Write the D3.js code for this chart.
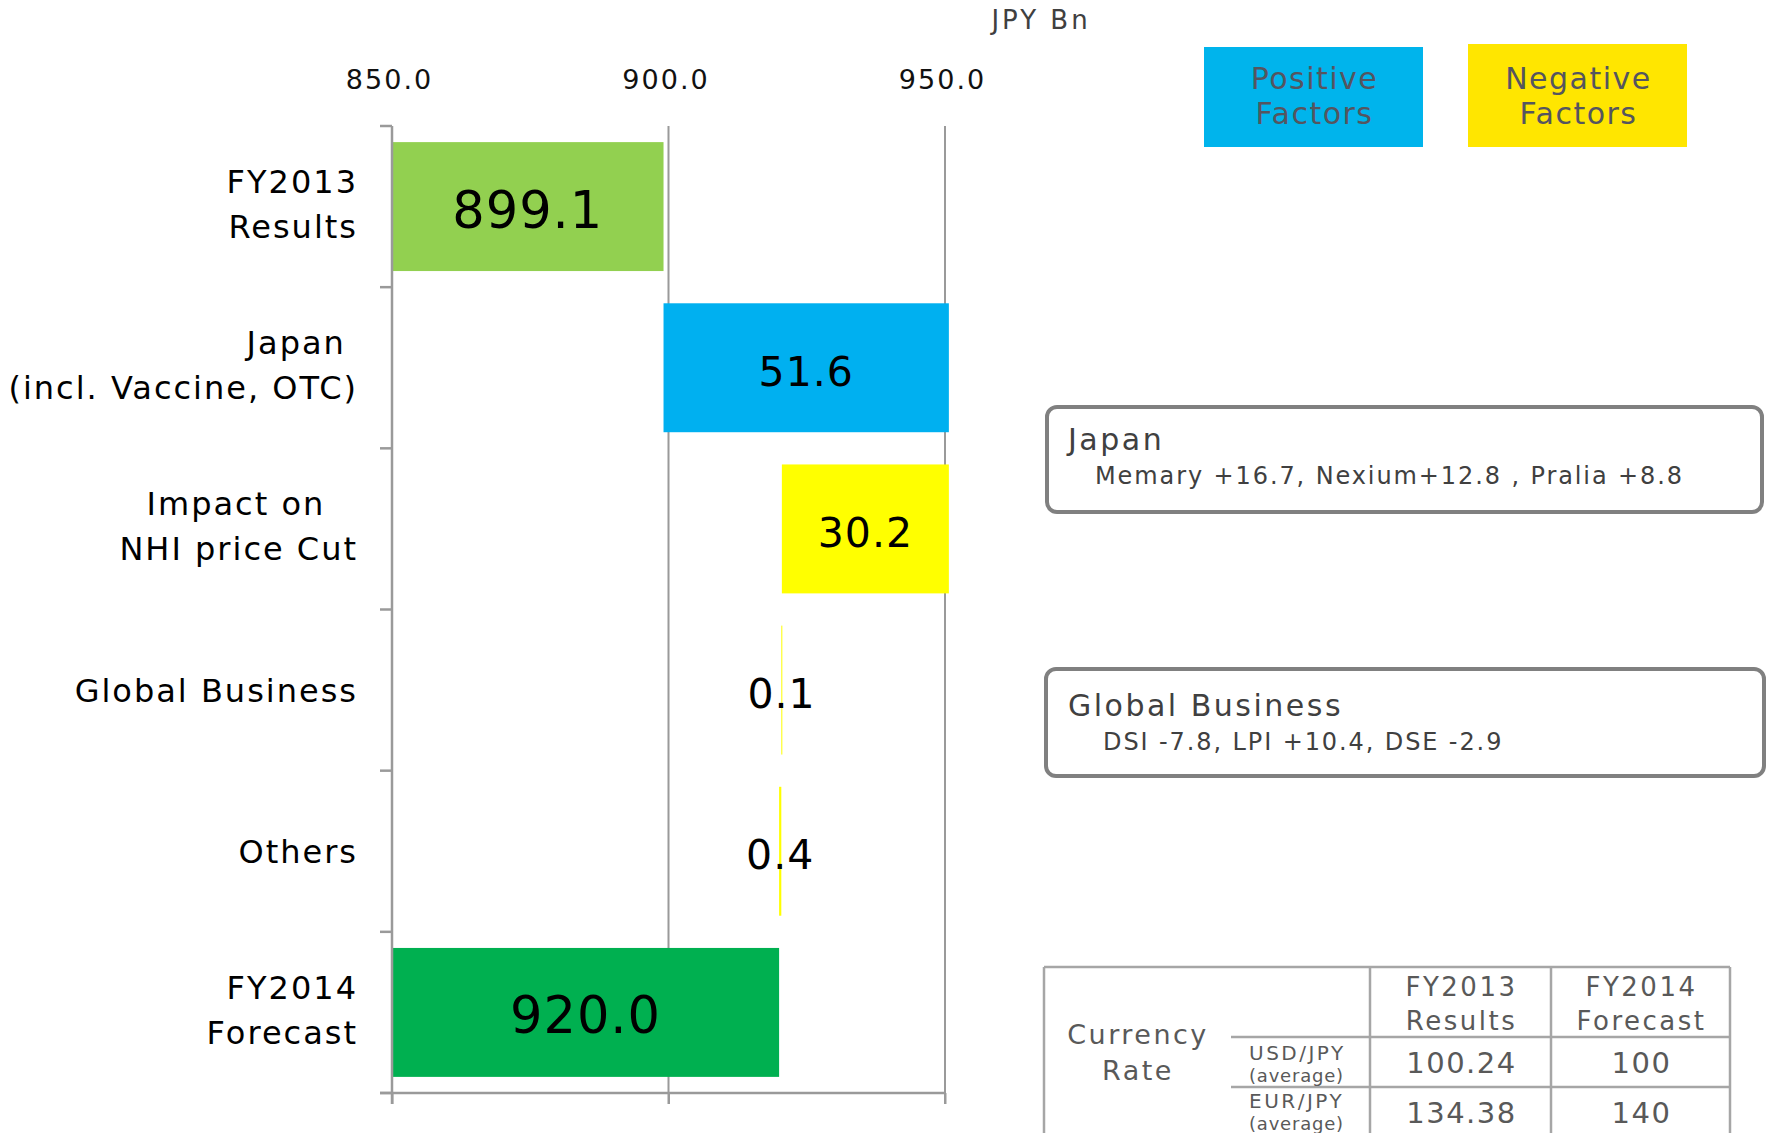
<!DOCTYPE html>
<html>
<head>
<meta charset="utf-8">
<script src="https://cdn.jsdelivr.net/npm/d3@7/dist/d3.min.js"></script>
<style>
  html, body { margin: 0; padding: 0; background: #fff; }
  svg { display: block; font-family: "DejaVu Sans", sans-serif; }
  text { white-space: pre; }
</style>
</head>
<body>
<svg id="chart" width="1771" height="1133"></svg>
<script>
// ---------------- data ----------------
const categories = ["FY2013 Results", "Japan", "Impact on NHI price Cut", "Global Business", "Others", "FY2014 Forecast"];
const categoryLines = [["FY2013", "Results"], ["Japan ", "(incl. Vaccine, OTC)"], ["Impact on \u2009 ", "NHI price Cut"], ["Global Business"], ["Others"], ["FY2014", "Forecast"]];
const values = [899.1, 51.6, -30.2, -0.1, -0.4, 920.0];
const barTypes = ["total", "pos", "neg", "neg", "neg", "total"];
const valueLabels = ["899.1", "51.6", "30.2", "0.1", "0.4", "920.0"];
const barColors = ["#92D050", "#00B0F0", "#FFFF00", "#FFFF00", "#FFFF00", "#00B050"];
const xTicks = [850, 900, 950];
const xDomain = [850, 950];
const unitLabel = "JPY Bn";

const legendLabels = [["Positive", "Factors"], ["Negative", "Factors"]];
const legendColors = ["#00B4EC", "#FFE600"];

const noteTitles = ["Japan", "Global Business"];
const noteDetails = ["Memary +16.7, Nexium+12.8 , Pralia +8.8", "DSI -7.8, LPI +10.4, DSE -2.9"];

const tableRowHeader = ["Currency", "Rate"];
const tableColHeaders = [["FY2013", "Results"], ["FY2014", "Forecast"]];
const rateNames = [["USD/JPY", "(average)"], ["EUR/JPY", "(average)"]];
const ratesFY2013 = ["100.24", "134.38"];
const ratesFY2014 = ["100", "140"];

// ---------------- build ----------------
const svg = d3.select("#chart");
const GRID = "#9a9a9a";

const x = d3.scaleLinear().domain(xDomain).range([392, 945]);
const y = d3.scaleBand().domain(categories).range([126, 1093]).paddingInner(0.2).paddingOuter(0.1);
const step = y.step();

// waterfall positions
let run = 0;
const bars = categories.map((c, i) => {
  let start, end;
  if (barTypes[i] === "total") { start = xDomain[0]; end = values[i]; run = values[i]; }
  else { start = run; end = run + values[i]; run = end; }
  return { cat: c, start, end, color: barColors[i], label: valueLabels[i], lines: categoryLines[i], type: barTypes[i] };
});

// gridlines (900, 950)
const gTop = 126, gBottom = 1093;
svg.append("g").selectAll("line").data(xTicks.slice(1)).join("line")
  .attr("x1", d => x(d)).attr("x2", d => x(d))
  .attr("y1", gTop).attr("y2", gBottom + 11)
  .attr("stroke", GRID).attr("stroke-width", 2);

// bars
svg.append("g").selectAll("rect").data(bars).join("rect")
  .attr("x", d => x(Math.min(d.start, d.end)))
  .attr("width", d => Math.max(1, Math.abs(x(d.end) - x(d.start))))
  .attr("y", d => y(d.cat))
  .attr("height", y.bandwidth())
  .attr("fill", d => d.color);

// top x axis labels
const topAxis = d3.axisTop(x).tickValues(xTicks).tickFormat(d3.format(".1f")).tickSize(0);
const gTopAxis = svg.append("g").attr("transform", "translate(0,89)").call(topAxis);
gTopAxis.select(".domain").remove();
gTopAxis.selectAll("text")
  .attr("y", 0).attr("dy", 0).attr("dx", -3)
  .attr("font-family", "DejaVu Sans").attr("font-size", 27)
  .attr("letter-spacing", 2).attr("fill", "#111");

// bottom x axis line with ticks
const bottomAxis = d3.axisBottom(x).tickValues(xTicks).tickSize(11).tickFormat("").tickSizeOuter(0);
const gBot = svg.append("g").attr("transform", `translate(0,${gBottom})`).call(bottomAxis);
gBot.select(".domain").attr("stroke", GRID).attr("stroke-width", 2.5).attr("d", `M380,0H${x(950)}`);
gBot.selectAll(".tick line").attr("stroke", GRID).attr("stroke-width", 2);

// left category axis: vertical line with ticks at band boundaries
svg.append("line").attr("x1", x(850)).attr("x2", x(850)).attr("y1", gTop).attr("y2", gBottom + 11)
  .attr("stroke", GRID).attr("stroke-width", 2.5);
const boundaries = categories.map(c => y(c) - step * 0.1).concat([gBottom]);
svg.append("g").selectAll("line").data(boundaries).join("line")
  .attr("x1", 380).attr("x2", x(850)).attr("y1", d => d).attr("y2", d => d)
  .attr("stroke", GRID).attr("stroke-width", 2.5);

// category labels
const catG = svg.append("g").attr("font-size", 32).attr("letter-spacing", 2).attr("fill", "#000").attr("text-anchor", "end");
bars.forEach(d => {
  const c = y(d.cat) + y.bandwidth() / 2;
  const offs = d.lines.length === 2 ? [-13.5, 31.5] : [11.5];
  d.lines.forEach((ln, k) => {
    catG.append("text").attr("x", 358).attr("y", c + offs[k]).attr("xml:space", "preserve").text(ln);
  });
});

// value labels
svg.append("g").selectAll("text").data(bars).join("text")
  .attr("x", d => (x(d.start) + x(d.end)) / 2)
  .attr("y", d => y(d.cat) + y.bandwidth() / 2 + (d.type === "total" ? 21 : 18))
  .attr("text-anchor", "middle")
  .attr("font-size", d => d.type === "total" ? 51 : 41)
  .attr("letter-spacing", 1)
  .attr("fill", "#000")
  .text(d => d.label);

// unit label
svg.append("text").attr("x", 1041).attr("y", 29).attr("text-anchor", "middle")
  .attr("font-size", 26).attr("letter-spacing", 3).attr("fill", "#404040").text(unitLabel);

// legend
const legendBoxes = [{ x: 1204, y: 47, w: 219, h: 100 }, { x: 1468, y: 44, w: 219, h: 103 }];
legendLabels.forEach((lines, i) => {
  const b = legendBoxes[i];
  svg.append("rect").attr("x", b.x).attr("y", b.y).attr("width", b.w).attr("height", b.h).attr("fill", legendColors[i]);
  lines.forEach((ln, k) => {
    svg.append("text").attr("x", b.x + b.w / 2 + 1).attr("y", 89 + k * 35)
      .attr("text-anchor", "middle").attr("font-size", 30).attr("letter-spacing", 1.5)
      .attr("fill", "#55555f").text(ln);
  });
});

// annotation boxes
const noteBoxes = [{ x: 1047, y: 407, w: 715, h: 105, tx: 1068, ty: 450, dx: 1095, dy: 484 },
                   { x: 1046, y: 669, w: 718, h: 107, tx: 1068, ty: 716, dx: 1103, dy: 750 }];
noteTitles.forEach((t, i) => {
  const b = noteBoxes[i];
  svg.append("rect").attr("x", b.x).attr("y", b.y).attr("width", b.w).attr("height", b.h)
    .attr("rx", 10).attr("fill", "#fff").attr("stroke", "#808080").attr("stroke-width", 4);
  svg.append("text").attr("x", b.tx).attr("y", b.ty).attr("font-size", 30).attr("letter-spacing", 2.5)
    .attr("fill", "#404040").text(t);
  svg.append("text").attr("x", b.dx).attr("y", b.dy).attr("font-size", 24).attr("letter-spacing", 1.9)
    .attr("fill", "#404040").text(noteDetails[i]);
});

// currency table
const T = svg.append("g");
const TL = "#a6a6a6", TC = "#595959";
const tLeft = 1044, tTop = 967, col1 = 1370, col2 = 1551, tRight = 1730, subLeft = 1231;
const hLines = [1037, 1087];
T.append("line").attr("x1", tLeft).attr("x2", tRight).attr("y1", tTop).attr("y2", tTop).attr("stroke", TL).attr("stroke-width", 2.5);
[tLeft, col1, col2, tRight].forEach(cx => T.append("line").attr("x1", cx).attr("x2", cx).attr("y1", tTop).attr("y2", 1140).attr("stroke", TL).attr("stroke-width", 2.5));
hLines.forEach(hy => T.append("line").attr("x1", subLeft).attr("x2", tRight).attr("y1", hy).attr("y2", hy).attr("stroke", TL).attr("stroke-width", 2.5));

const colCenters = [(col1 + col2) / 2, (col2 + tRight) / 2];
tableColHeaders.forEach((lines, i) => {
  lines.forEach((ln, k) => {
    T.append("text").attr("x", colCenters[i] + 1).attr("y", 996 + k * 34).attr("text-anchor", "middle")
      .attr("font-size", 26).attr("letter-spacing", 2.5).attr("fill", TC).text(ln);
  });
});
tableRowHeader.forEach((ln, k) => {
  T.append("text").attr("x", 1138).attr("y", 1044 + k * 36).attr("text-anchor", "middle")
    .attr("font-size", 27).attr("letter-spacing", 2.5).attr("fill", TC).text(ln);
});
rateNames.forEach((lines, r) => {
  const base = 1060 + r * 48;
  T.append("text").attr("x", 1249).attr("y", base).attr("font-size", 20).attr("letter-spacing", 2.5)
    .attr("fill", TC).text(lines[0]);
  T.append("text").attr("x", 1249).attr("y", base + 22).attr("font-size", 18).attr("letter-spacing", 0.8)
    .attr("fill", TC).text(lines[1]);
  T.append("text").attr("x", colCenters[0] + 1).attr("y", 1073 + r * 50).attr("text-anchor", "middle")
    .attr("font-size", 29).attr("letter-spacing", 1.5).attr("fill", TC).text(ratesFY2013[r]);
  T.append("text").attr("x", colCenters[1] + 1).attr("y", 1073 + r * 50).attr("text-anchor", "middle")
    .attr("font-size", 29).attr("letter-spacing", 1.5).attr("fill", TC).text(ratesFY2014[r]);
});
</script>
</body>
</html>
